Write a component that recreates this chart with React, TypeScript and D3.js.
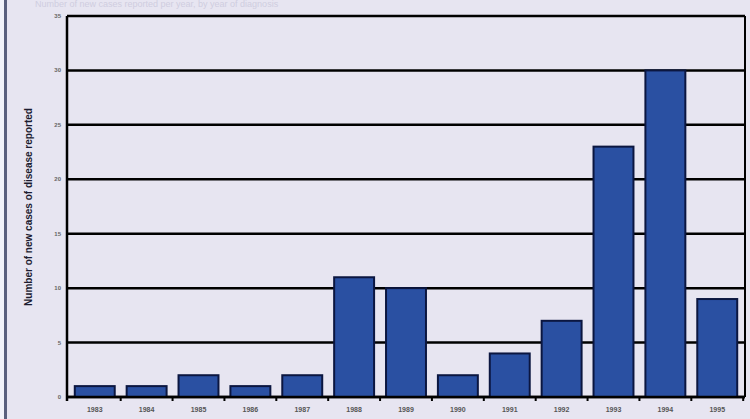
import React, { useEffect, useRef } from 'react';
import * as d3 from 'd3';

const years: string[] = ['1983', '1984', '1985', '1986', '1987', '1988', '1989', '1990', '1991', '1992', '1993', '1994', '1995'];
const cases: number[] = [1, 1, 2, 1, 2, 11, 10, 2, 4, 7, 23, 30, 9];
const yTicks: number[] = [0, 5, 10, 15, 20, 25, 30, 35];

const App: React.FC = () => {
  const ref = useRef<SVGSVGElement | null>(null);

  useEffect(() => {
    if (!ref.current) return;
    const width = 750;
    const height = 419;
    const margin = { top: 16, right: 5, bottom: 22, left: 67 };

    const svg = d3.select(ref.current);
    svg.selectAll('*').remove();

    svg.append('rect').attr('width', width).attr('height', height).attr('fill', '#e7e5f1');
    // left frame line
    svg.append('rect').attr('x', 4).attr('y', 0).attr('width', 3).attr('height', height).attr('fill', '#5a607e');
    svg.append('rect').attr('x', 0).attr('y', 0).attr('width', 4).attr('height', height).attr('fill', '#f2f3fa');

    // faint title cut off at top
    svg.append('text')
      .attr('x', 35).attr('y', 7)
      .attr('font-family', 'Arial, Liberation Sans, sans-serif')
      .attr('font-size', 9)
      .attr('fill', '#cfcde0')
      .text('Number of new cases reported per year, by year of diagnosis');

    const x = d3.scaleBand<string>()
      .domain(years)
      .range([margin.left, width - margin.right])
      .paddingInner(0.23)
      .paddingOuter(0.15);

    const y = d3.scaleLinear()
      .domain([0, 35])
      .range([height - margin.bottom, margin.top]);

    const g = svg.append('g');

    // gridlines
    g.selectAll('line.grid')
      .data(yTicks)
      .enter()
      .append('line')
      .attr('class', 'grid')
      .attr('x1', margin.left)
      .attr('x2', width - margin.right)
      .attr('y1', d => y(d))
      .attr('y2', d => y(d))
      .attr('stroke', '#000')
      .attr('stroke-width', 2.5);

    // bars
    g.selectAll('rect.bar')
      .data(cases)
      .enter()
      .append('rect')
      .attr('class', 'bar')
      .attr('x', (_, i) => x(years[i]) as number)
      .attr('y', d => y(d))
      .attr('width', x.bandwidth())
      .attr('height', d => y(0) - y(d))
      .attr('fill', '#2a50a2')
      .attr('stroke', '#0b1640')
      .attr('stroke-width', 2);

    // axes lines
    g.append('line')
      .attr('x1', margin.left).attr('x2', margin.left)
      .attr('y1', margin.top).attr('y2', y(0) + 4)
      .attr('stroke', '#000').attr('stroke-width', 2.5);
    g.append('line')
      .attr('x1', width - margin.right).attr('x2', width - margin.right)
      .attr('y1', margin.top).attr('y2', y(0))
      .attr('stroke', '#000').attr('stroke-width', 2);
    g.append('line')
      .attr('x1', margin.left).attr('x2', width - margin.right)
      .attr('y1', y(0)).attr('y2', y(0))
      .attr('stroke', '#000').attr('stroke-width', 2.5);

    // x ticks between categories
    const step = x.step();
    g.selectAll('line.xtick')
      .data(years)
      .enter()
      .append('line')
      .attr('class', 'xtick')
      .attr('x1', d => (x(d) as number) + x.bandwidth() + (step - x.bandwidth()) / 2)
      .attr('x2', d => (x(d) as number) + x.bandwidth() + (step - x.bandwidth()) / 2)
      .attr('y1', y(0))
      .attr('y2', y(0) + 4)
      .attr('stroke', '#000')
      .attr('stroke-width', 2);

    // x labels
    g.selectAll('text.xl')
      .data(years)
      .enter()
      .append('text')
      .attr('class', 'xl')
      .attr('x', d => (x(d) as number) + x.bandwidth() / 2)
      .attr('y', 412)
      .attr('text-anchor', 'middle')
      .attr('font-family', 'Arial, Liberation Sans, sans-serif')
      .attr('font-size', 7)
      .attr('font-weight', 'bold')
      .attr('fill', '#555')
      .text(d => d);

    // y labels
    g.selectAll('text.yl')
      .data(yTicks)
      .enter()
      .append('text')
      .attr('class', 'yl')
      .attr('x', 61)
      .attr('y', d => y(d) + 2)
      .attr('text-anchor', 'end')
      .attr('font-family', 'Arial, Liberation Sans, sans-serif')
      .attr('font-size', 6)
      .attr('font-weight', 'bold')
      .attr('fill', '#666')
      .text(d => d);

    // y title
    svg.append('text')
      .attr('transform', `translate(32, 207) rotate(-90)`)
      .attr('text-anchor', 'middle')
      .attr('font-family', 'Arial, Liberation Sans, sans-serif')
      .attr('font-size', 10)
      .attr('font-weight', 'bold')
      .attr('fill', '#1c1c30')
      .text('Number of new cases of disease reported');
  }, []);

  return (
    <div style={{ position: 'absolute', left: 0, top: 0 }}>
      <svg ref={ref} width={750} height={419} style={{ display: 'block' }} />
    </div>
  );
};

export default App;
